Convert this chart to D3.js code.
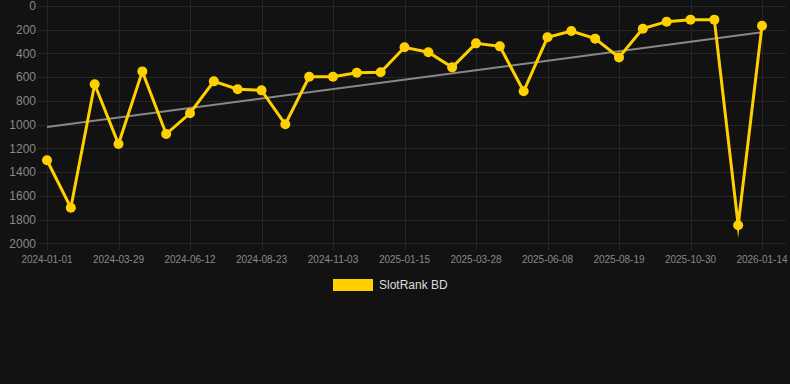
<!DOCTYPE html>
<html><head><meta charset="utf-8">
<script src="https://cdn.jsdelivr.net/npm/d3@7"></script>
<style>
html,body{margin:0;padding:0;background:#121212;}
svg{display:block;font-family:"Liberation Sans",Arial,sans-serif;}
</style></head>
<body><svg id="c" width="790" height="384"></svg>
<script>
const dates = ["2024-01-01","2024-01-30","2024-02-28","2024-03-29","2024-04-23","2024-05-18","2024-06-12","2024-07-06","2024-07-30","2024-08-23","2024-09-16","2024-10-10","2024-11-03","2024-11-27","2024-12-21","2025-01-15","2025-02-08","2025-03-04","2025-03-28","2025-04-21","2025-05-15","2025-06-08","2025-07-02","2025-07-26","2025-08-19","2025-09-12","2025-10-06","2025-10-30","2025-11-24","2025-12-19","2026-01-14"];
const ranks = [1300,1700,660,1163,551,1079,904,635,702,711,997,596,596,562,559,348,390,517,315,340,719,264,211,275,433,191,132,115,115,1848,166];
const trendEnds = [1020,222];
const yTicks = [0,200,400,600,800,1000,1200,1400,1600,1800,2000];
const xTickDates = ["2024-01-01","2024-03-29","2024-06-12","2024-08-23","2024-11-03","2025-01-15","2025-03-28","2025-06-08","2025-08-19","2025-10-30","2026-01-14"];
const seriesName = "SlotRank BD";

const svg = d3.select("#c");
const x = d3.scalePoint().domain(dates).range([47, 762]);
const y = d3.scaleLinear().domain([0, 2000]).range([6, 243.3]);

const grid = svg.append("g");
grid.selectAll("line.h").data(yTicks).join("line")
  .attr("x1", 38).attr("x2", 786)
  .attr("y1", d => Math.round(y(d)) + 0.5).attr("y2", d => Math.round(y(d)) + 0.5)
  .attr("stroke", "#262626").attr("stroke-width", 1);
grid.selectAll("line.v").data(xTickDates).join("line")
  .attr("x1", d => Math.round(x(d)) + 0.5).attr("x2", d => Math.round(x(d)) + 0.5)
  .attr("y1", 0).attr("y2", 250)
  .attr("stroke", "#262626").attr("stroke-width", 1);

// y labels
svg.append("g").selectAll("text").data(yTicks).join("text")
  .attr("x", 36).attr("y", d => y(d)).attr("dy", "0.35em")
  .attr("text-anchor", "end").attr("fill", "#888").attr("font-size", 12)
  .text(d => d);

// x labels
svg.append("g").selectAll("text").data(xTickDates).join("text")
  .attr("x", d => x(d)).attr("y", 263)
  .attr("text-anchor", "middle").attr("fill", "#888").attr("font-size", 10)
  .text(d => d);

// trend line
svg.append("line")
  .attr("x1", x(dates[0])).attr("y1", y(trendEnds[0]))
  .attr("x2", x(dates[dates.length - 1])).attr("y2", y(trendEnds[1]))
  .attr("stroke", "#888").attr("stroke-width", 2);

// series line
const line = d3.line().x((d, i) => x(dates[i])).y(d => y(d));
svg.append("path").datum(ranks).attr("d", line)
  .attr("fill", "none").attr("stroke", "#FFD000").attr("stroke-width", 3)
  .attr("stroke-linejoin", "miter").attr("stroke-miterlimit", 10);

svg.append("g").selectAll("circle").data(ranks).join("circle")
  .attr("cx", (d, i) => x(dates[i])).attr("cy", d => y(d)).attr("r", 5)
  .attr("fill", "#FFD000");

// legend
const lg = svg.append("g");
lg.append("rect").attr("x", 333).attr("y", 279).attr("width", 40).attr("height", 12)
  .attr("fill", "#FFD000");
lg.append("text").attr("x", 379).attr("y", 285).attr("dy", "0.35em")
  .attr("fill", "#ddd").attr("font-size", 12).text(seriesName);
</script></body></html>
